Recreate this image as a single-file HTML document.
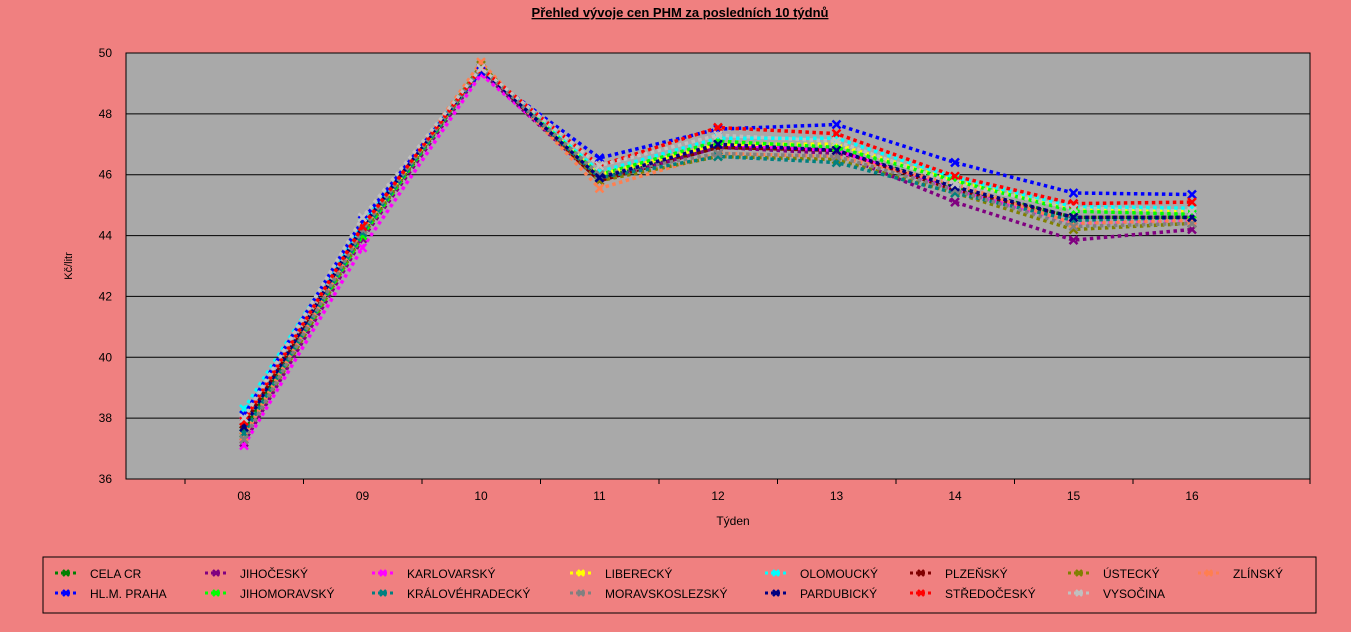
<!DOCTYPE html>
<html><head><meta charset="utf-8"><style>
body{margin:0;background:#f08080;font-family:"Liberation Sans",sans-serif;}
svg{display:block}
</style></head><body>
<svg width="1351" height="632" id="c">
<text x="680" y="17" text-anchor="middle" font-size="13" font-weight="bold" text-decoration="underline" fill="#000">Přehled vývoje cen PHM za posledních 10 týdnů</text>
<rect x="126" y="53" width="1184" height="426" fill="#a9a9a9" stroke="#000"/>
<g id="grid"></g><g id="series"></g>
<text x="733" y="525" text-anchor="middle" font-size="12">Týden</text>
<text transform="translate(72,266) rotate(-90)" text-anchor="middle" font-size="11">Kč/litr</text>
<rect x="43" y="557" width="1273" height="56" fill="none" stroke="#000"/>
<g id="legend"></g>
</svg>
<script>
const categories=["08","09","10","11","12","13","14","15","16"];
const yTicks=[36,38,40,42,44,46,48,50];
const names=["CELA CR","JIHOČESKÝ","KARLOVARSKÝ","LIBERECKÝ","OLOMOUCKÝ","PLZEŇSKÝ","ÚSTECKÝ","ZLÍNSKÝ","HL.M. PRAHA","JIHOMORAVSKÝ","KRÁLOVÉHRADECKÝ","MORAVSKOSLEZSKÝ","PARDUBICKÝ","STŘEDOČESKÝ","VYSOČINA"];
const colors=["#008000","#800080","#ff00ff","#ffff00","#00ffff","#800000","#808000","#ff7f50","#0000ff","#00ff00","#008080","#808080","#000080","#ff0000","#c0c0c0"];
const s0=[37.6,44.1,49.5,45.9,46.9,46.8,45.6,44.6,44.6];
const s1=[37.2,43.9,49.4,45.8,46.9,46.7,45.1,43.85,44.2];
const s2=[37.1,43.6,49.3,46.0,47.0,46.8,45.5,44.4,44.5];
const s3=[37.7,44.2,49.5,46.0,47.0,47.0,45.8,44.9,44.8];
const s4=[38.3,44.4,49.5,46.1,47.2,47.2,45.9,44.95,44.9];
const s5=[37.8,44.0,49.5,45.8,46.9,46.8,45.5,44.6,44.6];
const s6=[37.3,44.0,49.6,45.8,46.6,46.5,45.4,44.2,44.4];
const s7=[37.4,44.2,49.7,45.55,46.7,46.6,45.7,44.4,44.5];
const s8=[38.1,44.5,49.4,46.55,47.5,47.65,46.4,45.4,45.35];
const s9=[37.5,44.0,49.5,46.0,47.1,46.9,45.8,44.8,44.7];
const s10=[37.5,44.1,49.5,45.9,46.6,46.4,45.4,44.5,44.6];
const s11=[37.3,44.2,49.5,46.0,46.7,46.6,45.5,44.3,44.4];
const s12=[37.7,44.3,49.5,45.9,47.0,46.8,45.6,44.6,44.6];
const s13=[37.9,44.3,49.5,46.3,47.55,47.35,45.95,45.05,45.1];
const s14=[38.0,44.6,49.5,46.3,47.3,47.1,45.7,44.9,44.8];
const series=[s0,s1,s2,s3,s4,s5,s6,s7,s8,s9,s10,s11,s12,s13,s14];
const NS="http://www.w3.org/2000/svg";
const X=i=>244+i*118.5;
const Y=v=>479-(v-36)*426/14;
function mk(t,a,p){const e=document.createElementNS(NS,t);for(const k in a)e.setAttribute(k,a[k]);p.appendChild(e);return e;}
const g=document.getElementById('grid');
yTicks.forEach(v=>{
 const l=mk('line',{x1:126,x2:1310,y1:Y(v),y2:Y(v),stroke:'#000'},g);
 
 
 const t=mk('text',{x:112,y:Y(v)+4,'text-anchor':'end','font-size':12},g);t.textContent=v;
 
 
});
categories.forEach((c,i)=>{
 mk('line',{x1:X(i)-59,x2:X(i)-59,y1:479,y2:484,stroke:'#000'},g);
 const t=mk('text',{x:X(i),y:500,'text-anchor':'middle','font-size':12},g);t.textContent=c;
 
 
});
mk('line',{x1:1310,x2:1310,y1:479,y2:484,stroke:'#000'},g);
function cross(p,x,y,col,r){r=r||4;mk('path',{d:`M${x-r} ${y-r}L${x+r} ${y+r}M${x+r} ${y-r}L${x-r} ${y+r}`,stroke:col,'stroke-width':2.5},p);}
const sg=document.getElementById('series');
series.forEach((s,k)=>{
 const grp=mk('g',{},sg);
 
 
 mk('polyline',{points:s.map((v,i)=>X(i)+','+Y(v)).join(' '),fill:'none',stroke:colors[k],'stroke-width':3.5,'stroke-dasharray':'3.5 3.5'},grp);
 s.forEach((v,i)=>cross(grp,X(i),Y(v),colors[k]));
});
const lg=document.getElementById('legend');
const colX=[55,205,372,570,765,910,1068,1198];
names.forEach((n,k)=>{
 const x=colX[k%8],y=k<8?573:593;
 const e=mk('g',{},lg);
 
 
 mk('line',{x1:x,x2:x+22,y1:y,y2:y,stroke:colors[k],'stroke-width':3,'stroke-dasharray':'3 3'},e);
 cross(e,x+11,y,colors[k],3);
 const t=mk('text',{x:x+35,y:y+5,'font-size':12},e);t.textContent=n;
});
</script>
</body></html>
